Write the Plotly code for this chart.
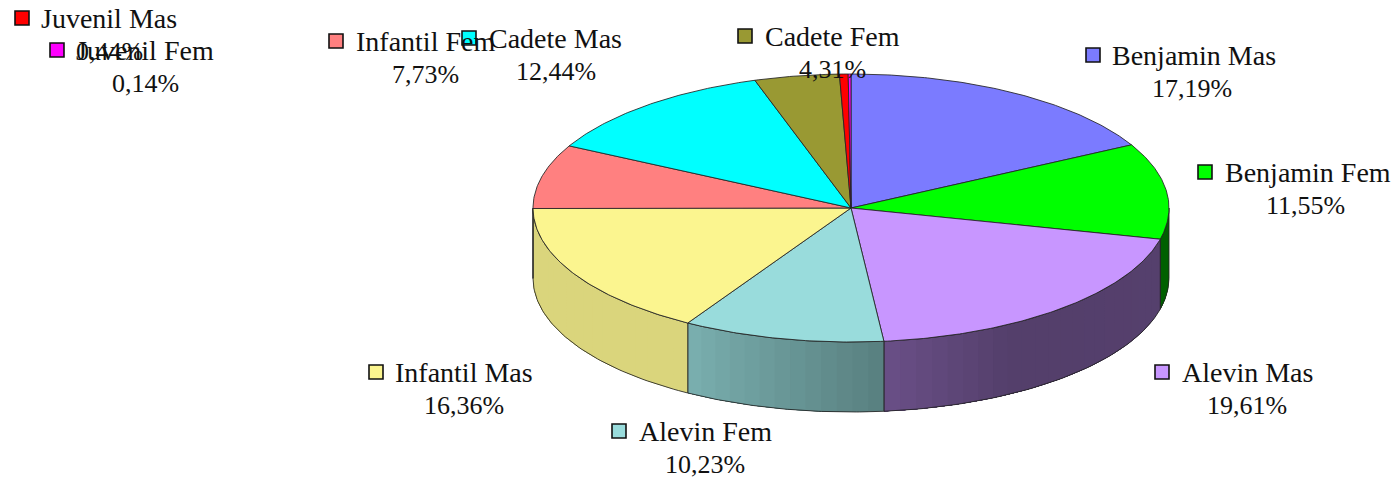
import numpy as np
import plotly.graph_objects as go

categories = ["Benjamin Mas", "Benjamin Fem", "Alevin Mas", "Alevin Fem", "Infantil Mas",
              "Infantil Fem", "Cadete Mas", "Cadete Fem", "Juvenil Mas", "Juvenil Fem"]
values = [17.19, 11.55, 19.61, 10.23, 16.36, 7.73, 12.44, 4.31, 0.44, 0.14]
colors = ["#7B7BFF", "#00FF00", "#C896FF", "#99DCDC", "#FBF58F",
          "#FF8080", "#00FFFF", "#999933", "#FF0000", "#FF00FF"]

# label layout (pixel positions on the page)
marker_x = [1093, 1205, 1162, 619, 376, 336, 469, 745, 22, 57]
marker_y = [55, 172, 372, 431, 372, 41, 38, 36, 18, 50]
text_x = [1110, 1223, 1180, 637, 393, 354, 487, 763, 39, 74]
pct_x = [1192, 1305, 1247, 705, 464, 425, 556, 832, 109, 145]

CX, CY, RX, RY, DEPTH = 851, 208, 318, 134, 70
NAME_FONT = dict(family="Liberation Serif", size=28, color="#111111")
PCT_FONT = dict(family="Liberation Serif", size=26, color="#111111")
EDGE = "rgba(35,35,35,0.85)"


def px(a):
    return CX + RX * np.sin(np.radians(a))


def py(a):
    return CY - RY * np.cos(np.radians(a))


def shade(a):
    return np.interp(a, [90, 104, 104.1, 150, 174.0, 174.1, 210.9, 211.0, 270],
                     [0.38, 0.38, 0.43, 0.42, 0.53, 0.58, 0.80, 0.87, 0.87])


def scaled(color, f):
    r, g, b = (int(color[i:i + 2], 16) for i in (1, 3, 5))
    return f"rgb({int(r * f)},{int(g * f)},{int(b * f)})"


edges = np.concatenate([[0], np.cumsum(values)]) / sum(values) * 360
fig = go.Figure()

# front walls: each band runs to the slice's end and the next band paints over it
for i in range(len(values)):
    a0, a1 = max(edges[i], 90), min(edges[i + 1], 270)
    if a1 <= a0:
        continue
    steps = np.linspace(a0, a1, max(2, int((a1 - a0) / 3) + 2))
    for s0, s1 in zip(steps[:-1], steps[1:]):
        t = np.linspace(s0, a1, 40)
        xs = np.r_[px(t), px(t[::-1])]
        ys = np.r_[py(t), py(t[::-1]) + DEPTH]
        c = scaled(colors[i], shade((s0 + s1) / 2))
        fig.add_trace(go.Scatter(x=xs, y=ys, mode="none", fill="toself", fillcolor=c,
                                 hoverinfo="skip", showlegend=False))
    t = np.linspace(a0, a1, 60)
    xs = np.r_[px(t), px(t[::-1]), px(t[0])]
    ys = np.r_[py(t), py(t[::-1]) + DEPTH, py(t[0])]
    fig.add_trace(go.Scatter(x=xs, y=ys, mode="lines", line=dict(color=EDGE, width=1),
                             hoverinfo="skip", showlegend=False))

# top slices
for i, name in enumerate(categories):
    t = np.linspace(edges[i], edges[i + 1], max(3, int(values[i] * 6)))
    xs = np.r_[CX, px(t), CX]
    ys = np.r_[CY, py(t), CY]
    fig.add_trace(go.Scatter(x=xs, y=ys, mode="lines", fill="toself", fillcolor=colors[i],
                             line=dict(color=EDGE, width=1), name=name, showlegend=False))

# label key squares
fig.add_trace(go.Scatter(x=marker_x, y=marker_y, mode="markers", hoverinfo="skip", showlegend=False,
                         marker=dict(symbol="square", size=14, color=colors,
                                     line=dict(color="#111111", width=1.6))))

for i, name in enumerate(categories):
    fig.add_annotation(x=text_x[i], y=marker_y[i] + 0.5, text=name, showarrow=False,
                       xanchor="left", yanchor="middle", font=NAME_FONT, xref="x", yref="y")
    pct = f"{values[i]:.2f}%".replace(".", ",")
    fig.add_annotation(x=pct_x[i], y=marker_y[i] + 33, text=pct, showarrow=False,
                       xanchor="center", yanchor="middle", font=PCT_FONT, xref="x", yref="y")

fig.update_layout(width=1397, height=480, margin=dict(l=0, r=0, t=0, b=0),
                  paper_bgcolor="white", plot_bgcolor="white",
                  xaxis=dict(range=[0, 1397], visible=False, fixedrange=True),
                  yaxis=dict(range=[480, 0], visible=False, fixedrange=True))
fig.write_html("out.html", post_script="document.body.style.margin='0';document.body.style.overflow='hidden';",
               config=dict(displayModeBar=False))
